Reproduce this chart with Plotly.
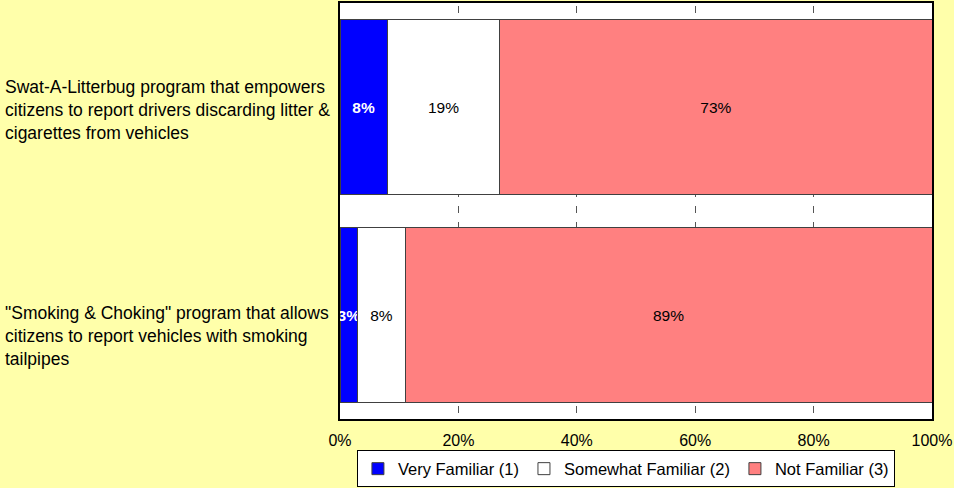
import plotly.graph_objects as go

programs = [
    "Swat-A-Litterbug program that empowers<br>citizens to report drivers discarding litter &<br>cigarettes from vehicles",
    "\"Smoking & Choking\" program that allows<br>citizens to report vehicles with smoking<br>tailpipes",
]
very_familiar = [8, 3]
somewhat_familiar = [19, 8]
not_familiar = [73, 89]

series = [
    ("Very Familiar (1)", very_familiar, "#0000FF", "white", True),
    ("Somewhat Familiar (2)", somewhat_familiar, "#FFFFFF", "black", False),
    ("Not Familiar (3)", not_familiar, "#FF8080", "black", False),
]

cats = ["p1", "p2"]
FONT = "Liberation Sans, Arial"

fig = go.Figure()
for name, vals, color, tcolor, bold in series:
    labels = [f"<b>{v}%</b>" if bold else f"{v}%" for v in vals]
    fig.add_trace(go.Bar(
        name=name, y=cats, x=vals, orientation="h",
        marker=dict(color=color, line=dict(color="#404040", width=1)),
        text=labels, texttemplate="%{text}",
        textposition="inside", insidetextanchor="middle",
        textangle=0, constraintext="none",
        textfont=dict(color=tcolor, size=15.5, family=FONT),
        hoverinfo="x+name",
    ))

# left-aligned category labels
shifts = [-3, -21]
for c, label, s in zip(cats, programs, shifts):
    fig.add_annotation(
        x=-0.569, xref="paper", y=c, yref="y", yshift=s,
        text=label, showarrow=False, xanchor="left", align="left",
        font=dict(size=17.5, color="black", family=FONT),
    )

fig.update_layout(
    barmode="stack", bargap=0.155,
    width=954, height=488,
    margin=dict(l=340, r=22, t=1, b=62),
    paper_bgcolor="#FFFFAA", plot_bgcolor="white",
    font=dict(family=FONT, size=16, color="black"),
    showlegend=True,
    legend=dict(
        orientation="h", x=0.483, xanchor="center", y=-0.12, yanchor="middle",
        bgcolor="white", bordercolor="black", borderwidth=1,
        font=dict(size=16.5), itemwidth=30, traceorder="normal",
    ),
)
fig.update_xaxes(
    range=[0, 100], dtick=20, ticksuffix="%", ticks="",
    showgrid=True, gridcolor="#555555", gridwidth=1,
    griddash="0px,3px,6.5px,5.9px",
    showline=True, mirror=True, linecolor="black", linewidth=2,
    zeroline=False, ticklabelstandoff=6, tickfont=dict(size=16),
)
fig.update_yaxes(
    categoryorder="array", categoryarray=cats, autorange="reversed",
    showticklabels=False, ticks="", showgrid=False,
    showline=True, mirror=True, linecolor="black", linewidth=2,
)

fig.write_html("out.html", config={"displayModeBar": False},
               post_script="document.body.style.margin='0';")
